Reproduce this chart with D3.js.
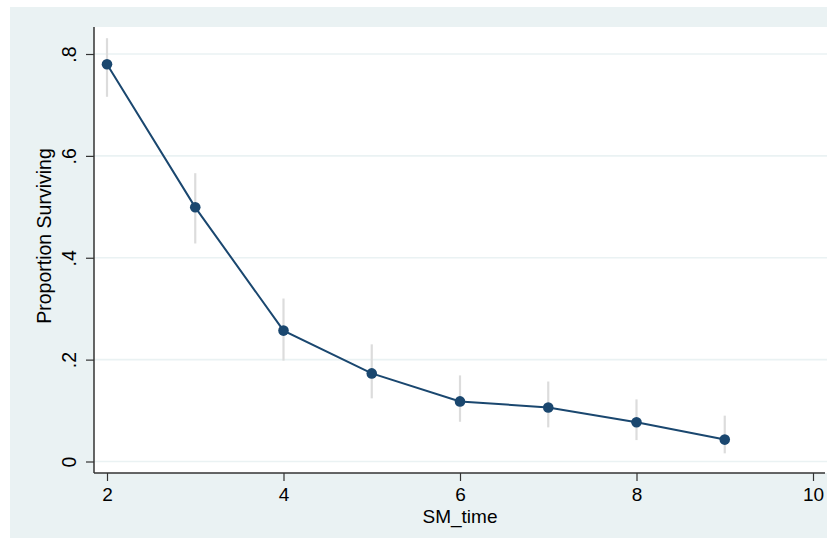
<!DOCTYPE html>
<html>
<head>
<meta charset="utf-8">
<script src="https://cdn.jsdelivr.net/npm/d3@7"></script>
<style>
  body { margin: 0; background: #ffffff; }
  text { font-family: "Liberation Sans", Arial, sans-serif; fill: #000; }
</style>
</head>
<body>
<div id="chart"></div>
<script>

// data
var smTime = [2, 3, 4, 5, 6, 7, 8, 9];
var surv = [0.780, 0.499, 0.257, 0.173, 0.118, 0.106, 0.077, 0.043];
var ciLow = [0.716, 0.428, 0.198, 0.124, 0.078, 0.067, 0.042, 0.016];
var ciHigh = [0.831, 0.566, 0.320, 0.230, 0.169, 0.157, 0.122, 0.090];
var xTicks = [2, 4, 6, 8, 10];
var yTicks = [0, 0.2, 0.4, 0.6, 0.8];

var totwidth = 836,
	totheight = 540;

var svg = d3.select("#chart").append("svg")
	.attr("width", totwidth)
	.attr("height", totheight);

// outer graph region
svg.append("rect")
	.attr("x", 10).attr("y", 7)
	.attr("width", 817).attr("height", 531)
	.attr("fill", "#eaf2f3");

// plot region
var plotL = 94, plotR = 827, plotT = 27, plotB = 473;

svg.append("rect")
	.attr("x", plotL).attr("y", plotT)
	.attr("width", plotR - plotL).attr("height", plotB - plotT)
	.attr("fill", "white");

// scales
var x = d3.scaleLinear().domain([2, 10]).range([107, 813]);
var y = d3.scaleLinear().domain([0, 0.8]).range([461.5, 54]);

// gridlines
svg.append("g").selectAll("line").data(yTicks).enter().append("line")
	.attr("x1", plotL).attr("x2", plotR)
	.attr("y1", function(d) { return y(d); })
	.attr("y2", function(d) { return y(d); })
	.attr("stroke", "#eaf2f3")
	.attr("stroke-width", 1.6);

// axes
var yAxis = d3.axisLeft(y).tickValues(yTicks)
	.tickFormat(function(d) { return d === 0 ? "0" : d3.format(".1f")(d).replace(/^0/, ""); })
	.tickSize(8);

var xAxis = d3.axisBottom(x).tickValues(xTicks)
	.tickFormat(d3.format("d"))
	.tickSize(8);

var gy = svg.append("g")
	.attr("transform", "translate(" + plotL + ",0)")
	.call(yAxis);
gy.select(".domain").attr("d", "M0," + plotT + "V" + plotB).attr("stroke", "#333").attr("stroke-width", 1.5);
gy.selectAll(".tick line").attr("stroke", "#333").attr("stroke-width", 1.2);
gy.selectAll(".tick text")
	.attr("font-size", 19.5)
	.attr("text-anchor", "middle")
	.attr("x", null).attr("dy", null)
	.attr("transform", "translate(-18,0) rotate(-90)");

var gx = svg.append("g")
	.attr("transform", "translate(0," + plotB + ")")
	.call(xAxis);
gx.select(".domain").attr("d", "M" + plotL + ",0H" + (plotR - 2)).attr("stroke", "#333").attr("stroke-width", 1.5);
gx.selectAll(".tick line").attr("stroke", "#333").attr("stroke-width", 1.2);
gx.selectAll(".tick text")
	.attr("font-size", 19)
	.attr("y", 28).attr("dy", null);

// axis titles
svg.append("text")
	.attr("transform", "translate(51,236) rotate(-90)")
	.attr("text-anchor", "middle")
	.attr("font-size", 19.5)
	.text("Proportion Surviving");

svg.append("text")
	.attr("x", 460).attr("y", 523)
	.attr("text-anchor", "middle")
	.attr("font-size", 19)
	.text("SM_time");

// confidence intervals
svg.append("g").selectAll("line").data(smTime).enter().append("line")
	.attr("x1", function(d) { return x(d); })
	.attr("x2", function(d) { return x(d); })
	.attr("y1", function(d, i) { return y(ciLow[i]); })
	.attr("y2", function(d, i) { return y(ciHigh[i]); })
	.attr("stroke", "#dcdcdc")
	.attr("stroke-width", 2.2);

// survival line
var linefun = d3.line()
	.x(function(d, i) { return x(smTime[i]); })
	.y(function(d) { return y(d); });

svg.append("path")
	.datum(surv)
	.attr("fill", "none")
	.attr("stroke", "#1a476f")
	.attr("stroke-width", 2)
	.attr("d", linefun);

svg.append("g").selectAll("circle").data(surv).enter().append("circle")
	.attr("cx", function(d, i) { return x(smTime[i]); })
	.attr("cy", function(d) { return y(d); })
	.attr("r", 5.3)
	.attr("fill", "#1a476f");

</script>
</body>
</html>
